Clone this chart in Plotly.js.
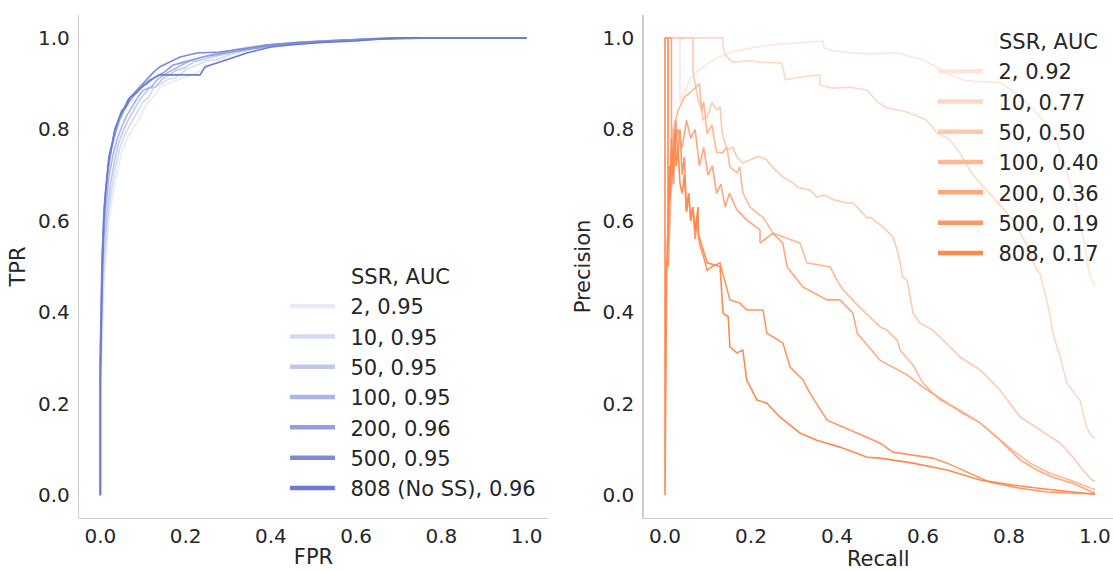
<!DOCTYPE html>
<html>
<head>
<meta charset="utf-8">
<script src="https://cdn.plot.ly/plotly-3.0.1.min.js"></script>
<style>html,body{margin:0;padding:0;background:#fff;}#chart{width:1113px;height:571px;}</style>
</head>
<body>
<div id="chart"></div>
<script>
// ---------- labels ----------
const ssrLabels = ['2', '10', '50', '100', '200', '500', '808'];
const rocAucLabels = ['0.95', '0.95', '0.95', '0.95', '0.96', '0.95', '0.96'];
const prAucLabels = ['0.92', '0.77', '0.50', '0.40', '0.36', '0.19', '0.17'];
const tickVals = [0, 0.2, 0.4, 0.6, 0.8, 1.0];
const tickText = ['0.0', '0.2', '0.4', '0.6', '0.8', '1.0'];

// ---------- ROC curves (FPR, TPR) ----------
const roc2_fpr = [0, 0, 0.008, 0.02, 0.03, 0.04, 0.05, 0.063, 0.075, 0.09, 0.11, 0.125, 0.14, 0.16, 0.18, 0.21, 0.24, 0.28, 0.3, 0.34, 0.4, 0.45, 0.5, 0.6, 0.7, 0.83, 1.0];
const roc2_tpr = [0, 0.2, 0.45, 0.6, 0.66, 0.71, 0.75, 0.78, 0.8, 0.82, 0.858, 0.872, 0.893, 0.9, 0.908, 0.918, 0.93, 0.952, 0.955, 0.967, 0.98, 0.984, 0.989, 0.995, 0.998, 1.0, 1.0];
const roc10_fpr = [0, 0, 0.007, 0.017, 0.027, 0.036, 0.046, 0.058, 0.07, 0.085, 0.1, 0.112, 0.125, 0.16, 0.175, 0.2, 0.25, 0.27, 0.31, 0.37, 0.45, 0.55, 0.67, 0.8, 1.0];
const roc10_tpr = [0, 0.22, 0.47, 0.6, 0.67, 0.72, 0.76, 0.79, 0.81, 0.835, 0.86, 0.868, 0.89, 0.91, 0.912, 0.93, 0.95, 0.952, 0.965, 0.978, 0.988, 0.994, 0.998, 1.0, 1.0];
const roc50_fpr = [0, 0, 0.006, 0.015, 0.024, 0.033, 0.043, 0.055, 0.068, 0.08, 0.095, 0.115, 0.13, 0.145, 0.18, 0.2, 0.22, 0.28, 0.35, 0.42, 0.52, 0.63, 0.76, 1.0];
const roc50_tpr = [0, 0.25, 0.5, 0.61, 0.68, 0.73, 0.77, 0.8, 0.825, 0.845, 0.868, 0.89, 0.893, 0.91, 0.93, 0.935, 0.948, 0.962, 0.976, 0.986, 0.993, 0.997, 1.0, 1.0];
const roc100_fpr = [0, 0, 0.005, 0.013, 0.021, 0.03, 0.04, 0.05, 0.062, 0.075, 0.088, 0.1, 0.12, 0.135, 0.16, 0.19, 0.21, 0.26, 0.32, 0.39, 0.47, 0.56, 0.66, 0.78, 1.0];
const roc100_tpr = [0, 0.28, 0.52, 0.63, 0.7, 0.745, 0.78, 0.805, 0.83, 0.85, 0.87, 0.885, 0.893, 0.91, 0.925, 0.94, 0.95, 0.963, 0.975, 0.985, 0.991, 0.995, 0.998, 1.0, 1.0];
const roc200_fpr = [0, 0, 0.005, 0.011, 0.018, 0.026, 0.035, 0.045, 0.055, 0.068, 0.08, 0.095, 0.11, 0.13, 0.15, 0.17, 0.2, 0.24, 0.3, 0.36, 0.42, 0.5, 0.58, 0.66, 0.74, 1.0];
const roc200_tpr = [0, 0.3, 0.53, 0.64, 0.71, 0.755, 0.79, 0.82, 0.84, 0.86, 0.875, 0.89, 0.9, 0.915, 0.925, 0.94, 0.948, 0.958, 0.968, 0.977, 0.985, 0.99, 0.995, 0.998, 1.0, 1.0];
const roc500_fpr = [0, 0, 0.004, 0.009, 0.015, 0.02, 0.028, 0.035, 0.045, 0.055, 0.065, 0.08, 0.095, 0.11, 0.125, 0.14, 0.164, 0.187, 0.227, 0.28, 0.33, 0.4, 0.46, 0.55, 0.62, 0.68, 1.0];
const roc500_tpr = [0, 0.32, 0.52, 0.63, 0.69, 0.73, 0.77, 0.8, 0.825, 0.845, 0.865, 0.88, 0.895, 0.91, 0.925, 0.937, 0.947, 0.958, 0.967, 0.969, 0.975, 0.985, 0.99, 0.994, 0.997, 1.0, 1.0];
const roc808_fpr = [0, 0, 0.004, 0.008, 0.012, 0.016, 0.02, 0.028, 0.034, 0.042, 0.05, 0.06, 0.07, 0.085, 0.1, 0.117, 0.14, 0.234, 0.246, 0.281, 0.344, 0.4, 0.45, 0.52, 0.6, 0.65, 0.72, 1.0];
const roc808_tpr = [0, 0.25, 0.45, 0.6, 0.66, 0.7, 0.74, 0.77, 0.8, 0.82, 0.84, 0.85, 0.87, 0.88, 0.895, 0.908, 0.919, 0.919, 0.937, 0.947, 0.967, 0.98, 0.985, 0.99, 0.993, 0.997, 1.0, 1.0];

// ---------- PR curves (Recall, Precision) ----------
const pr2_rec = [0, 0.035, 0.035, 0.045, 0.058, 0.08, 0.1, 0.13, 0.16, 0.2, 0.25, 0.3, 0.367, 0.37, 0.388, 0.43, 0.477, 0.54, 0.6, 0.623, 0.65, 0.693, 0.72, 0.779, 0.8, 0.83, 0.86, 0.88, 0.9, 0.912, 0.93, 0.95, 0.96, 0.975, 0.988, 1.0];
const pr2_prec = [1, 1, 0.86, 0.88, 0.91, 0.93, 0.945, 0.96, 0.97, 0.978, 0.985, 0.989, 0.993, 0.978, 0.972, 0.968, 0.965, 0.967, 0.952, 0.941, 0.925, 0.908, 0.905, 0.902, 0.89, 0.87, 0.84, 0.82, 0.79, 0.77, 0.72, 0.66, 0.62, 0.55, 0.48, 0.455];
const pr10_rec = [0, 0.135, 0.135, 0.14, 0.156, 0.2, 0.221, 0.272, 0.28, 0.32, 0.36, 0.36, 0.39, 0.43, 0.47, 0.493, 0.516, 0.563, 0.609, 0.633, 0.663, 0.686, 0.709, 0.726, 0.779, 0.81, 0.84, 0.865, 0.872, 0.888, 0.895, 0.902, 0.92, 0.935, 0.95, 0.965, 0.98, 0.993, 1.0];
const pr10_prec = [1, 1, 0.98, 0.963, 0.947, 0.95, 0.947, 0.945, 0.908, 0.915, 0.919, 0.897, 0.89, 0.892, 0.886, 0.86, 0.847, 0.838, 0.82, 0.792, 0.777, 0.748, 0.711, 0.689, 0.635, 0.6, 0.55, 0.492, 0.486, 0.427, 0.398, 0.354, 0.3, 0.245, 0.225, 0.208, 0.149, 0.127, 0.125];
const pr50_rec = [0, 0.065, 0.065, 0.07, 0.077, 0.086, 0.088, 0.098, 0.109, 0.121, 0.128, 0.133, 0.144, 0.158, 0.167, 0.181, 0.214, 0.221, 0.237, 0.251, 0.274, 0.298, 0.307, 0.337, 0.353, 0.372, 0.391, 0.423, 0.437, 0.447, 0.47, 0.477, 0.507, 0.53, 0.54, 0.547, 0.553, 0.563, 0.577, 0.593, 0.623, 0.663, 0.686, 0.733, 0.779, 0.826, 0.872, 0.919, 0.949, 0.972, 0.993, 1.0];
const pr50_prec = [1, 1, 0.926, 0.902, 0.864, 0.842, 0.821, 0.827, 0.858, 0.842, 0.849, 0.792, 0.755, 0.761, 0.74, 0.726, 0.74, 0.74, 0.733, 0.716, 0.696, 0.683, 0.674, 0.667, 0.652, 0.656, 0.646, 0.639, 0.639, 0.63, 0.606, 0.608, 0.586, 0.565, 0.536, 0.508, 0.477, 0.47, 0.398, 0.376, 0.361, 0.324, 0.302, 0.274, 0.23, 0.171, 0.142, 0.114, 0.083, 0.055, 0.033, 0.03];
const pr100_rec = [0, 0.007, 0.007, 0.012, 0.019, 0.03, 0.045, 0.058, 0.08, 0.085, 0.09, 0.098, 0.109, 0.12, 0.133, 0.144, 0.151, 0.167, 0.174, 0.181, 0.198, 0.214, 0.228, 0.251, 0.314, 0.33, 0.384, 0.4, 0.414, 0.453, 0.5, 0.516, 0.54, 0.547, 0.577, 0.6, 0.64, 0.686, 0.733, 0.772, 0.809, 0.849, 0.895, 0.942, 0.993, 1.0];
const pr100_prec = [1, 1, 0.5, 0.6, 0.8, 0.84, 0.87, 0.88, 0.9, 0.84, 0.86, 0.79, 0.81, 0.75, 0.748, 0.761, 0.718, 0.705, 0.718, 0.661, 0.63, 0.617, 0.608, 0.573, 0.551, 0.508, 0.499, 0.47, 0.449, 0.411, 0.368, 0.361, 0.339, 0.317, 0.284, 0.245, 0.208, 0.186, 0.158, 0.127, 0.098, 0.07, 0.048, 0.033, 0.015, 0.012];
const pr200_rec = [0, 0.015, 0.015, 0.02, 0.03, 0.04, 0.05, 0.06, 0.07, 0.08, 0.09, 0.1, 0.11, 0.12, 0.13, 0.14, 0.15, 0.167, 0.19, 0.221, 0.221, 0.251, 0.274, 0.284, 0.321, 0.377, 0.407, 0.437, 0.447, 0.484, 0.5, 0.53, 0.563, 0.6, 0.64, 0.693, 0.733, 0.779, 0.826, 0.865, 0.902, 0.949, 0.993, 1.0];
const pr200_prec = [1, 1, 0.67, 0.75, 0.8, 0.76, 0.82, 0.78, 0.8, 0.72, 0.76, 0.7, 0.72, 0.66, 0.68, 0.63, 0.66, 0.624, 0.602, 0.58, 0.551, 0.573, 0.551, 0.499, 0.455, 0.427, 0.427, 0.398, 0.354, 0.311, 0.295, 0.28, 0.263, 0.236, 0.212, 0.179, 0.158, 0.12, 0.077, 0.055, 0.039, 0.026, 0.007, 0.006];
const pr500_rec = [0, 0.007, 0.007, 0.01, 0.015, 0.02, 0.025, 0.03, 0.035, 0.04, 0.045, 0.05, 0.055, 0.06, 0.065, 0.07, 0.075, 0.08, 0.09, 0.098, 0.11, 0.128, 0.151, 0.174, 0.19, 0.228, 0.237, 0.274, 0.291, 0.321, 0.337, 0.377, 0.414, 0.5, 0.53, 0.577, 0.623, 0.656, 0.702, 0.756, 0.826, 0.888, 0.949, 1.0];
const pr500_prec = [1, 1, 0.5, 0.62, 0.75, 0.68, 0.82, 0.74, 0.8, 0.7, 0.74, 0.62, 0.66, 0.6, 0.63, 0.56, 0.6, 0.55, 0.52, 0.492, 0.5, 0.508, 0.427, 0.42, 0.405, 0.405, 0.354, 0.333, 0.28, 0.252, 0.223, 0.164, 0.149, 0.114, 0.094, 0.088, 0.081, 0.07, 0.05, 0.028, 0.015, 0.007, 0.004, 0.003];
const pr808_rec = [0, 0, 0.002, 0.004, 0.007, 0.01, 0.012, 0.015, 0.018, 0.022, 0.026, 0.03, 0.035, 0.04, 0.045, 0.05, 0.055, 0.06, 0.065, 0.07, 0.077, 0.077, 0.098, 0.128, 0.135, 0.147, 0.151, 0.167, 0.181, 0.19, 0.214, 0.237, 0.267, 0.314, 0.353, 0.407, 0.47, 0.5, 0.577, 0.656, 0.733, 0.809, 0.888, 0.993, 1.0];
const pr808_prec = [1, 0, 0.25, 0.5, 0.6, 0.72, 0.65, 0.78, 0.7, 0.8, 0.72, 0.76, 0.68, 0.66, 0.7, 0.62, 0.66, 0.6, 0.63, 0.58, 0.63, 0.573, 0.508, 0.5, 0.398, 0.39, 0.324, 0.311, 0.317, 0.252, 0.208, 0.201, 0.171, 0.136, 0.12, 0.105, 0.083, 0.081, 0.07, 0.055, 0.033, 0.022, 0.013, 0.002, 0.002];

// ---------- build ----------
const blues = ['#e8ebf7', '#d4daf2', '#bfc7ed', '#a9b4e7', '#929fe0', '#7b8bd8', '#6a7bd0'];
const oranges = ['#ffe5d9', '#ffd7c4', '#ffc9ae', '#ffb894', '#ffa77c', '#ff9763', '#ff8a50'];
const rocX = [roc2_fpr, roc10_fpr, roc50_fpr, roc100_fpr, roc200_fpr, roc500_fpr, roc808_fpr];
const rocY = [roc2_tpr, roc10_tpr, roc50_tpr, roc100_tpr, roc200_tpr, roc500_tpr, roc808_tpr];
const prX = [pr2_rec, pr10_rec, pr50_rec, pr100_rec, pr200_rec, pr500_rec, pr808_rec];
const prY = [pr2_prec, pr10_prec, pr50_prec, pr100_prec, pr200_prec, pr500_prec, pr808_prec];

const FONT = 'DejaVu Sans, sans-serif';
const TXT = '#262626';
const PAD = '\u2002';
const traces = [];
for (let i = 0; i < ssrLabels.length; i++) {
  traces.push({x: rocX[i], y: rocY[i], xaxis: 'x', yaxis: 'y', mode: 'lines', showlegend: false,
    line: {color: blues[i], width: 1.6}, hoverinfo: 'skip'});
}
for (let i = 0; i < ssrLabels.length; i++) {
  traces.push({x: prX[i], y: prY[i], xaxis: 'x2', yaxis: 'y2', mode: 'lines', showlegend: false,
    line: {color: oranges[i], width: 1.6}, hoverinfo: 'skip'});
}
// legend entries (thicker handles)
for (let i = 0; i < ssrLabels.length; i++) {
  const lab = PAD + (ssrLabels[i] === '808' ? '808 (No SS)' : ssrLabels[i]) + ', ' + rocAucLabels[i];
  traces.push({x: [null], y: [null], xaxis: 'x', yaxis: 'y', mode: 'lines', name: lab, legend: 'legend',
    line: {color: blues[i], width: 4.5}});
}
for (let i = 0; i < ssrLabels.length; i++) {
  traces.push({x: [null], y: [null], xaxis: 'x2', yaxis: 'y2', mode: 'lines', name: PAD + ssrLabels[i] + ', ' + prAucLabels[i], legend: 'legend2',
    line: {color: oranges[i], width: 4.5}});
}

const W = 1113, H = 571;
const axisCommon = {
  showline: true, linecolor: '#cccccc', linewidth: 1.25, mirror: false,
  showgrid: false, zeroline: false,
  tickvals: tickVals, ticktext: tickText,
  tickfont: {family: FONT, size: 20, color: TXT},
  fixedrange: true
};
const xTicks = {ticks: ''};
const yTicks = {ticks: 'outside', ticklen: 4, tickcolor: 'rgba(0,0,0,0)'};
const yDom = [53 / H, 556 / H];
const layout = {
  width: W, height: H,
  margin: {l: 0, r: 0, t: 0, b: 0},
  paper_bgcolor: '#ffffff', plot_bgcolor: '#ffffff',
  font: {family: FONT, color: TXT},
  xaxis: Object.assign({}, axisCommon, xTicks, {domain: [79 / W, 548 / W], range: [-0.05, 1.05], anchor: 'y',
    title: {text: 'FPR', font: {family: FONT, size: 21, color: TXT}, standoff: 2}}),
  yaxis: Object.assign({}, axisCommon, yTicks, {domain: yDom, range: [-0.05, 1.05], anchor: 'x',
    title: {text: 'TPR', font: {family: FONT, size: 21, color: TXT}, standoff: 6}}),
  xaxis2: Object.assign({}, axisCommon, xTicks, {domain: [643.5 / W, 1], range: [-0.05, 1.042], anchor: 'y2',
    title: {text: 'Recall', font: {family: FONT, size: 21, color: TXT}, standoff: 2}}),
  yaxis2: Object.assign({}, axisCommon, yTicks, {domain: yDom, range: [-0.05, 1.05], anchor: 'x2',
    title: {text: 'Precision', font: {family: FONT, size: 21, color: TXT}, standoff: 6}}),
  legend: {x: 285 / W, y: 1 - 286 / H, xanchor: 'left', yanchor: 'top', bgcolor: 'rgba(0,0,0,0)',
    borderwidth: 0, itemwidth: 45, font: {family: FONT, size: 21, color: TXT}, itemclick: false, itemdoubleclick: false},
  legend2: {x: 933 / W, y: 1 - 51 / H, xanchor: 'left', yanchor: 'top', bgcolor: 'rgba(0,0,0,0)',
    borderwidth: 0, itemwidth: 45, font: {family: FONT, size: 21, color: TXT}, itemclick: false, itemdoubleclick: false},
  annotations: [
    {text: 'SSR, AUC', xref: 'paper', yref: 'paper', x: 349 / W, y: 1 - 277 / H, xanchor: 'left', yanchor: 'middle',
      showarrow: false, font: {family: FONT, size: 21, color: TXT}},
    {text: 'SSR, AUC', xref: 'paper', yref: 'paper', x: 997 / W, y: 1 - 42 / H, xanchor: 'left', yanchor: 'middle',
      showarrow: false, font: {family: FONT, size: 21, color: TXT}}
  ]
};
Plotly.newPlot('chart', traces, layout, {staticPlot: true, displayModeBar: false});
</script>
</body>
</html>
